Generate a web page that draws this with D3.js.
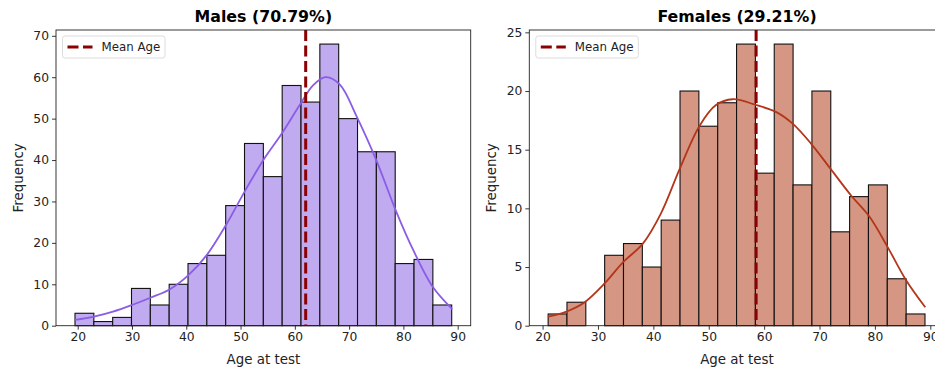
<!DOCTYPE html>
<html>
<head>
<meta charset="utf-8">
<script src="https://cdn.jsdelivr.net/npm/d3@7"></script>
<style>
  body { margin: 0; background: #fff; }
  svg { font-family: "DejaVu Sans", sans-serif; }
</style>
</head>
<body>
<svg id="chart" width="935" height="372"></svg>
<script>
// Histogram counts (20 bins each)
var maleCounts = [3, 1, 2, 9, 5, 10, 15, 17, 29, 44, 36, 58, 54, 68, 50, 42, 42, 15, 16, 5];
var femaleCounts = [1, 2, 0, 6, 7, 5, 9, 20, 17, 19, 24, 13, 24, 12, 20, 8, 11, 12, 4, 1];

// Bin range (first and last edge) of each histogram
var maleRange = [19.5, 88.9];
var femaleRange = [21.0, 89.04];

// Mean ages
var maleMean = 62.0;
var femaleMean = 58.55;

// KDE curves, points [age, frequency]
var maleKde = [[19.5,1.4],[23,2.2],[26.5,3.4],[30,5.0],[33.5,6.8],[37,8.8],[40.4,12.2],[43.8,17.1],
  [47.4,24.5],[50.8,32.5],[54.2,40.0],[57.6,46.4],[60.9,53.3],[63.4,58.1],[65.7,60.0],[68.3,58.2],
  [71.4,50.5],[75,40],[78.7,27.5],[81.8,18.3],[85.4,9.4],[89,4.0]];
var femaleKde = [[21,0.77],[24.3,1.2],[27.6,2.0],[31.2,3.6],[34.5,5.4],[38.1,7.0],[41.4,9.6],[44.7,13.3],
  [48.3,17.0],[51.3,18.8],[54.3,19.3],[58.6,18.8],[62.2,18.2],[65.2,17.2],[68.5,15.5],[72.1,13.3],
  [75.7,11.1],[79,9.3],[82.3,6.7],[85.6,3.9],[89.1,1.57]];

// Tick labels
var xTicks = [20, 30, 40, 50, 60, 70, 80, 90];
var maleYTicks = [0, 10, 20, 30, 40, 50, 60, 70];
var femaleYTicks = [0, 5, 10, 15, 20, 25];

var svg = d3.select("#chart");

function panel(opt) {
  var x = d3.scaleLinear().domain(opt.xDomain).range([opt.left, opt.right]);
  var y = d3.scaleLinear().domain(opt.yDomain).range([opt.bottom, opt.top]);
  var g = svg.append("g");

  // bins
  var step = (opt.range[1] - opt.range[0]) / opt.counts.length;
  var bins = opt.counts.map(function(c, i) {
    return { x0: opt.range[0] + i * step, x1: opt.range[0] + (i + 1) * step, n: c };
  });

  g.selectAll("rect.bar")
    .data(bins)
    .enter().append("rect")
    .attr("class", "bar")
    .attr("x", function(d) { return x(d.x0); })
    .attr("y", function(d) { return y(d.n); })
    .attr("width", function(d) { return x(d.x1) - x(d.x0); })
    .attr("height", function(d) { return y(0) - y(d.n); })
    .attr("fill", opt.barColor)
    .attr("stroke", "#111")
    .attr("stroke-width", 1.1);

  // kde line
  var line = d3.line()
    .x(function(d) { return x(d[0]); })
    .y(function(d) { return y(d[1]); })
    .curve(d3.curveCatmullRom);
  g.append("path")
    .datum(opt.kde)
    .attr("d", line)
    .attr("fill", "none")
    .attr("stroke", opt.lineColor)
    .attr("stroke-width", 1.8);

  // mean line
  g.append("line")
    .attr("x1", x(opt.mean)).attr("x2", x(opt.mean))
    .attr("y1", opt.top).attr("y2", opt.bottom)
    .attr("stroke", "#8b0000")
    .attr("stroke-width", 3)
    .attr("stroke-dasharray", "11,4.5");

  // axes
  var xAxis = d3.axisBottom(x).tickValues(xTicks).tickSize(4).tickPadding(3);
  var yAxis = d3.axisLeft(y).tickValues(opt.yTicks).tickSize(4).tickPadding(3);

  var gx = g.append("g").attr("transform", "translate(0," + opt.bottom + ")").call(xAxis);
  var gy = g.append("g").attr("transform", "translate(" + opt.left + ",0)").call(yAxis);
  [gx, gy].forEach(function(a) {
    a.select(".domain").remove();
    a.selectAll("line").attr("stroke", "#222").attr("stroke-width", 0.9);
    a.selectAll("text").attr("fill", "#222").style("font-size", "12.3px")
      .style("font-family", "DejaVu Sans, sans-serif");
  });

  // frame
  g.append("rect")
    .attr("x", opt.left).attr("y", opt.top)
    .attr("width", opt.right - opt.left).attr("height", opt.bottom - opt.top)
    .attr("fill", "none").attr("stroke", "#222").attr("stroke-width", 0.9);

  // title and labels
  g.append("text")
    .attr("x", (opt.left + opt.right) / 2).attr("y", 22)
    .attr("text-anchor", "middle")
    .style("font-size", "15.8px").style("font-weight", "bold")
    .text(opt.title);

  g.append("text")
    .attr("x", (opt.left + opt.right) / 2).attr("y", 363.5)
    .attr("text-anchor", "middle")
    .style("font-size", "13.4px").attr("fill", "#222")
    .text("Age at test");

  g.append("text")
    .attr("transform", "translate(" + (opt.left - 33) + "," + ((opt.top + opt.bottom) / 2) + ")rotate(-90)")
    .attr("text-anchor", "middle")
    .style("font-size", "13.4px").attr("fill", "#222")
    .text("Frequency");

  // legend
  var lg = g.append("g").attr("transform", "translate(" + (opt.left + 6.5) + "," + (opt.top + 6) + ")");
  lg.append("rect")
    .attr("width", 102.5).attr("height", 22)
    .attr("rx", 2.5)
    .attr("fill", "#fff").attr("fill-opacity", 0.8)
    .attr("stroke", "#d8d8d8").attr("stroke-width", 0.9);
  lg.append("line")
    .attr("x1", 5).attr("x2", 30).attr("y1", 11).attr("y2", 11)
    .attr("stroke", "#8b0000").attr("stroke-width", 3)
    .attr("stroke-dasharray", "11,4.5");
  lg.append("text")
    .attr("x", 39).attr("y", 15.2)
    .style("font-size", "11.8px").attr("fill", "#222")
    .text("Mean Age");
}

panel({
  title: "Males (70.79%)",
  counts: maleCounts, range: maleRange, kde: maleKde, mean: maleMean,
  yTicks: maleYTicks,
  xDomain: [16.0, 92.4], yDomain: [0, 71.4],
  left: 56, right: 470.7, top: 30, bottom: 325.7,
  barColor: "#c0aaf0", lineColor: "#8b5ce6"
});

panel({
  title: "Females (29.21%)",
  counts: femaleCounts, range: femaleRange, kde: femaleKde, mean: femaleMean,
  yTicks: femaleYTicks,
  xDomain: [17.6, 92.6], yDomain: [0, 25.2],
  left: 529.3, right: 944.7, top: 30, bottom: 325.7,
  barColor: "#d59784", lineColor: "#b3361a"
});
</script>
</body>
</html>
